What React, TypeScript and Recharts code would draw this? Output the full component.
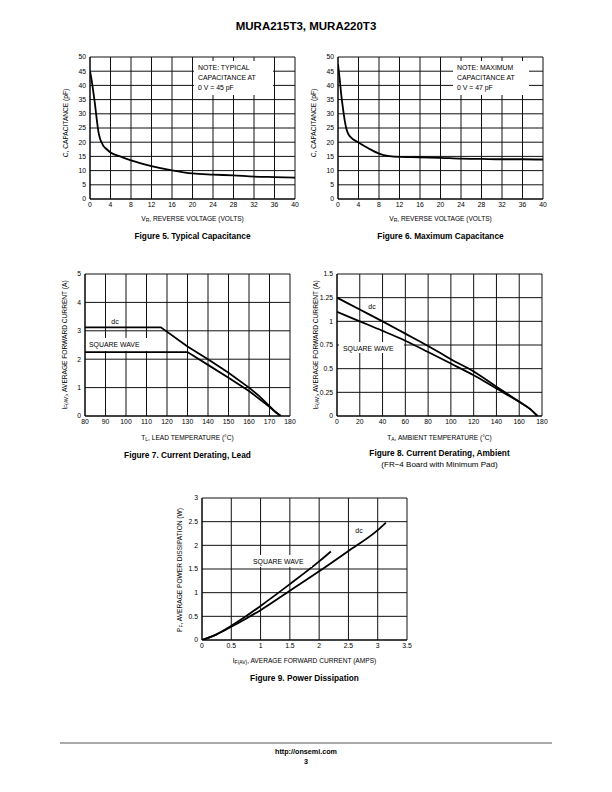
import React from 'react';
import { LineChart, Line, XAxis, YAxis, CartesianGrid } from 'recharts';

// Figure 5 - typical capacitance vs reverse voltage
const fig5Volts = [0, 0.3, 0.65, 1, 1.3, 1.6, 1.95, 2.3, 2.6, 3.2, 4, 6, 8, 12, 16, 20, 24, 28, 32, 36, 40];
const fig5Cap = [45, 42, 37.7, 33, 28.3, 24.2, 21.3, 19.8, 18.7, 17.6, 16.4, 14.9, 13.6, 11.6, 10.1, 9.0, 8.6, 8.3, 7.9, 7.7, 7.5];

// Figure 6 - maximum capacitance
const fig6Volts = [0, 0.32, 0.65, 0.97, 1.3, 1.62, 1.95, 2.4, 4, 6, 8, 10, 12, 16, 20, 24, 28, 32, 36, 40];
const fig6Cap = [47.5, 42.4, 36.5, 31.9, 27.8, 24.8, 23.1, 21.9, 19.9, 17.8, 16.0, 15.1, 14.8, 14.7, 14.5, 14.2, 14.1, 14.0, 14.0, 13.9];

// Figure 7 - current derating, lead
const fig7DcTemp = [80, 117, 130, 140, 150, 160, 165, 170, 173, 175.5];
const fig7DcAmps = [3.12, 3.12, 2.45, 2.0, 1.52, 1.0, 0.7, 0.35, 0.14, 0];
const fig7SqTemp = [80, 130, 140, 150, 160, 170, 173, 175.5];
const fig7SqAmps = [2.25, 2.25, 1.8, 1.35, 0.88, 0.32, 0.13, 0];

// Figure 8 - current derating, ambient
const fig8DcTemp = [0, 20, 40, 60, 80, 100, 120, 140, 160, 170, 176];
const fig8DcAmps = [1.25, 1.125, 1.0, 0.87, 0.74, 0.6, 0.47, 0.31, 0.15, 0.07, 0];
const fig8SqTemp = [0, 20, 40, 60, 80, 100, 120, 140, 160, 170, 176];
const fig8SqAmps = [1.1, 1.0, 0.9, 0.795, 0.676, 0.554, 0.43, 0.29, 0.15, 0.07, 0];

// Figure 9 - power dissipation
const fig9DcAmps = [0, 0.25, 0.5, 0.75, 1, 1.5, 2, 2.5, 3, 3.14];
const fig9DcWatts = [0, 0.12, 0.28, 0.45, 0.63, 1.04, 1.45, 1.88, 2.32, 2.48];
const fig9SqAmps = [0, 0.25, 0.5, 0.75, 1, 1.5, 2, 2.2];
const fig9SqWatts = [0, 0.12, 0.3, 0.5, 0.72, 1.18, 1.66, 1.87];

const voltTicks = [0, 4, 8, 12, 16, 20, 24, 28, 32, 36, 40];
const capTicks = [0, 5, 10, 15, 20, 25, 30, 35, 40, 45, 50];
const leadTicks = [80, 90, 100, 110, 120, 130, 140, 150, 160, 170, 180];
const leadAmpTicks = [0, 1, 2, 3, 4, 5];
const ambTicks = [0, 20, 40, 60, 80, 100, 120, 140, 160, 180];
const ambAmpTicks = [0, 0.25, 0.5, 0.75, 1, 1.25, 1.5];
const pwrAmpTicks = [0, 0.5, 1, 1.5, 2, 2.5, 3, 3.5];
const wattTicks = [0, 0.5, 1, 1.5, 2, 2.5, 3];

const FONT = '"Liberation Sans", Arial, Helvetica, sans-serif';

type Series = { xs: number[]; ys: number[]; curve: 'linear' | 'monotone' };

const toRows = (xs: number[], ys: number[]) => xs.map((x, i) => ({ x, y: ys[i] }));

function Plot(props: {
  left: number; top: number; w: number; h: number;
  xTicks: number[]; yTicks: number[]; series: Series[];
}) {
  const { left, top, w, h, xTicks, yTicks, series } = props;
  const padL = 26, padT = 6, padR = 10, padB = 14;
  const tickStyle = { fontSize: 6.8, fill: '#000', fontFamily: FONT };
  return (
    <div style={{ position: 'absolute', left: left - padL, top: top - padT }}>
      <LineChart
        width={padL + w + padR}
        height={padT + h + padB}
        margin={{ top: padT, right: padR, bottom: 0, left: 0 }}
      >
        <CartesianGrid stroke="#111" strokeWidth={1} />
        <XAxis
          type="number"
          dataKey="x"
          domain={[xTicks[0], xTicks[xTicks.length - 1]]}
          ticks={xTicks}
          interval={0}
          height={padB}
          tickLine={false}
          tickSize={2}
          tickMargin={1}
          axisLine={{ stroke: '#000' }}
          tick={tickStyle}
          allowDataOverflow
        />
        <YAxis
          type="number"
          domain={[yTicks[0], yTicks[yTicks.length - 1]]}
          ticks={yTicks}
          interval={0}
          width={padL}
          tickLine={false}
          tickSize={2}
          tickMargin={2}
          axisLine={{ stroke: '#000' }}
          tick={tickStyle}
          allowDataOverflow
        />
        {series.map((s, i) => (
          <Line
            key={i}
            data={toRows(s.xs, s.ys)}
            dataKey="y"
            type={s.curve}
            stroke="#000"
            strokeWidth={1.8}
            dot={false}
            isAnimationActive={false}
          />
        ))}
      </LineChart>
    </div>
  );
}

function T(props: { x: number; y: number; size?: number; bold?: boolean; rotate?: boolean; children: React.ReactNode }) {
  const { x, y, size = 6.6, bold, rotate, children } = props;
  return (
    <div
      style={{
        position: 'absolute',
        left: x,
        top: y,
        transform: `translate(-50%, -50%)${rotate ? ' rotate(-90deg)' : ''}`,
        whiteSpace: 'nowrap',
        fontSize: size,
        fontWeight: bold ? 'bold' : 'normal',
        lineHeight: 1,
      }}
    >
      {children}
    </div>
  );
}

function Box(props: { x: number; y: number; w: number; h: number; lines: string[]; tx: number }) {
  const { x, y, w, h, lines, tx } = props;
  return (
    <div style={{ position: 'absolute', left: x, top: y, width: w, height: h, background: '#fff' }}>
      {lines.map((l, i) => (
        <div key={i} style={{ position: 'absolute', left: tx, top: 2 + i * 10, fontSize: 6.9, lineHeight: '9px', whiteSpace: 'nowrap' }}>
          {l}
        </div>
      ))}
    </div>
  );
}

const Sub = ({ children }: { children: React.ReactNode }) => (
  <span style={{ fontSize: '0.75em', position: 'relative', top: '0.3em' }}>{children}</span>
);

export default function App() {
  return (
    <div style={{ position: 'absolute', left: 0, top: 0, width: 612, height: 792, background: '#fff', fontFamily: FONT, color: '#000' }}>
      <T x={306} y={27} size={11.5} bold>MURA215T3, MURA220T3</T>

      {/* Figure 5 */}
      <Plot left={90} top={57} w={205} h={142} xTicks={voltTicks} yTicks={capTicks}
        series={[{ xs: fig5Volts, ys: fig5Cap, curve: 'monotone' }]} />
      <Box x={194} y={61} w={79} h={34} tx={4} lines={['NOTE: TYPICAL', 'CAPACITANCE AT', '0 V = 45 pF']} />
      <T x={66} y={123} rotate>C, CAPACITANCE (pF)</T>
      <T x={192.5} y={218.5}>V<Sub>R</Sub>, REVERSE VOLTAGE (VOLTS)</T>
      <T x={192.5} y={236} size={8.3} bold>Figure 5. Typical Capacitance</T>

      {/* Figure 6 */}
      <Plot left={338} top={57} w={205} h={142} xTicks={voltTicks} yTicks={capTicks}
        series={[{ xs: fig6Volts, ys: fig6Cap, curve: 'monotone' }]} />
      <Box x={453} y={61} w={76} h={34} tx={4} lines={['NOTE: MAXIMUM', 'CAPACITANCE AT', '0 V = 47 pF']} />
      <T x={314} y={123} rotate>C, CAPACITANCE (pF)</T>
      <T x={440.5} y={218.5}>V<Sub>R</Sub>, REVERSE VOLTAGE (VOLTS)</T>
      <T x={440.5} y={236} size={8.3} bold>Figure 6. Maximum Capacitance</T>

      {/* Figure 7 */}
      <Plot left={85} top={274} w={205} h={142} xTicks={leadTicks} yTicks={leadAmpTicks}
        series={[
          { xs: fig7DcTemp, ys: fig7DcAmps, curve: 'linear' },
          { xs: fig7SqTemp, ys: fig7SqAmps, curve: 'linear' },
        ]} />
      <Box x={86} y={338} w={66} h={13} tx={3} lines={['SQUARE WAVE']} />
      <T x={115} y={322} size={6.9}>dc</T>
      <T x={65} y={345} rotate>I<Sub>F(AV)</Sub>, AVERAGE FORWARD CURRENT (A)</T>
      <T x={187.5} y={438}>T<Sub>L</Sub>, LEAD TEMPERATURE (°C)</T>
      <T x={187.5} y={455} size={8.3} bold>Figure 7. Current Derating, Lead</T>

      {/* Figure 8 */}
      <Plot left={337} top={274} w={205} h={142} xTicks={ambTicks} yTicks={ambAmpTicks}
        series={[
          { xs: fig8DcTemp, ys: fig8DcAmps, curve: 'monotone' },
          { xs: fig8SqTemp, ys: fig8SqAmps, curve: 'monotone' },
        ]} />
      <Box x={339} y={342} w={65} h={11} tx={4} lines={['SQUARE WAVE']} />
      <T x={372} y={307} size={6.9}>dc</T>
      <T x={316} y={345} rotate>I<Sub>F(AV)</Sub>, AVERAGE FORWARD CURRENT (A)</T>
      <T x={439.5} y={438}>T<Sub>A</Sub>, AMBIENT TEMPERATURE (°C)</T>
      <T x={439.5} y={453} size={8.3} bold>Figure 8. Current Derating, Ambient</T>
      <T x={439.5} y={465} size={8}>(FR−4 Board with Minimum Pad)</T>

      {/* Figure 9 */}
      <Plot left={202} top={498} w={205} h={142} xTicks={pwrAmpTicks} yTicks={wattTicks}
        series={[
          { xs: fig9DcAmps, ys: fig9DcWatts, curve: 'monotone' },
          { xs: fig9SqAmps, ys: fig9SqWatts, curve: 'monotone' },
        ]} />
      <Box x={250} y={555} w={62} h={12} tx={3} lines={['SQUARE WAVE']} />
      <T x={359} y={531} size={6.9}>dc</T>
      <T x={180} y={570} rotate>P<Sub>F</Sub>, AVERAGE POWER DISSIPATION (W)</T>
      <T x={304.5} y={661}>I<Sub>F(AV)</Sub>, AVERAGE FORWARD CURRENT (AMPS)</T>
      <T x={304.5} y={678} size={8.3} bold>Figure 9. Power Dissipation</T>

      {/* footer */}
      <div style={{ position: 'absolute', left: 60, top: 742, width: 492, height: 1.5, background: '#aaa' }} />
      <T x={306} y={752} size={7.2} bold>http://onsemi.com</T>
      <T x={306} y={761.5} size={7.2} bold>3</T>
    </div>
  );
}
